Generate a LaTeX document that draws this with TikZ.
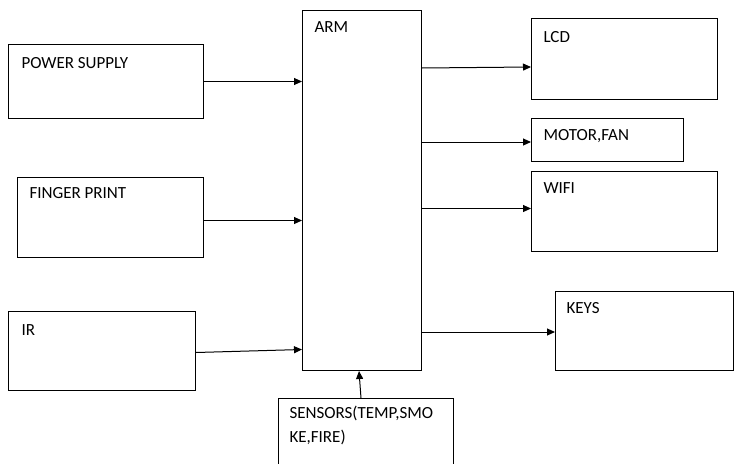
\documentclass[tikz,border=0pt]{standalone}
\usepackage{fontspec}
\setmainfont{Carlito}
\usetikzlibrary{arrows.meta}

\tikzset{
  box/.style={draw, line width=1pt, rectangle, inner sep=0pt, anchor=north west},
  lbl/.style={anchor=base west, inner sep=0pt, font=\fontsize{17}{24}\selectfont},
}

\begin{document}
\begin{tikzpicture}[x=1pt,y=-1pt,>={Triangle[length=8pt,width=7pt]},line width=1pt]
            \useasboundingbox (0,0) rectangle (735,463);
            % blocks on the left
            \node[box,minimum width=195,minimum height=74] (ps) at (8,44) {};
            \node[box,minimum width=186,minimum height=80] (fp) at (17,177) {};
            \node[box,minimum width=187,minimum height=79] (ir) at (8,311) {};
            % controller
            \node[box,minimum width=119,minimum height=360] (arm) at (302,10) {};
            % blocks on the right
            \node[box,minimum width=186,minimum height=81] (lcd) at (531,18) {};
            \node[box,minimum width=152,minimum height=43] (mot) at (531,118) {};
            \node[box,minimum width=186,minimum height=80] (wifi) at (531,171) {};
            \node[box,minimum width=178,minimum height=79] (keys) at (555,291) {};
            \node[box,minimum width=175,minimum height=80] (sens) at (278,398) {};
            % labels
            \node[lbl] (pst) at ([shift={(13,24)}]ps.north west) {POWER SUPPLY};
            \node[lbl] (fpt) at ([shift={(12,21)}]fp.north west) {FINGER PRINT};
            \node[lbl] (irt) at ([shift={(13,24)}]ir.north west) {IR};
            \node[lbl] (armt) at ([shift={(12,22)}]arm.north west) {ARM};
            \node[lbl] (lcdt) at ([shift={(12,24)}]lcd.north west) {LCD};
            \node[lbl] (mott) at ([shift={(12,22)}]mot.north west) {MOTOR,FAN};
            \node[lbl] (wifit) at ([shift={(12,22)}]wifi.north west) {WIFI};
            \node[lbl] (keyst) at ([shift={(11,22)}]keys.north west) {KEYS};
            \node[lbl] (sens1) at ([shift={(11,20)}]sens.north west) {SENSORS(TEMP,SMO};
            \node[lbl] (sens2) at ([yshift=-24]sens1.base west) {KE,FIRE)};
            % connectors
            \draw[->] (ps.east) -- (ps.east -| arm.west);
            \draw[->] ([yshift=-3]fp.east) -- ([yshift=-3]fp.east -| arm.west);
            \draw[->] ([yshift=-1.5]ir.east) -- ([yshift=1.5]ir.east -| arm.west);
            \draw[->] ([yshift=-9]lcd.west -| arm.east) -- ([yshift=-8]lcd.west);
            \draw[->] ([yshift=-2]mot.west -| arm.east) -- ([yshift=-2]mot.west);
            \draw[->] ([yshift=3]wifi.west -| arm.east) -- ([yshift=3]wifi.west);
            \draw[->] ([yshift=-1]keys.west -| arm.east) -- ([yshift=-1]keys.west);
            \draw[->] ([xshift=-5]sens.north) -- ([xshift=-7]sens.north |- arm.south);
        \end{tikzpicture}
\end{document}
